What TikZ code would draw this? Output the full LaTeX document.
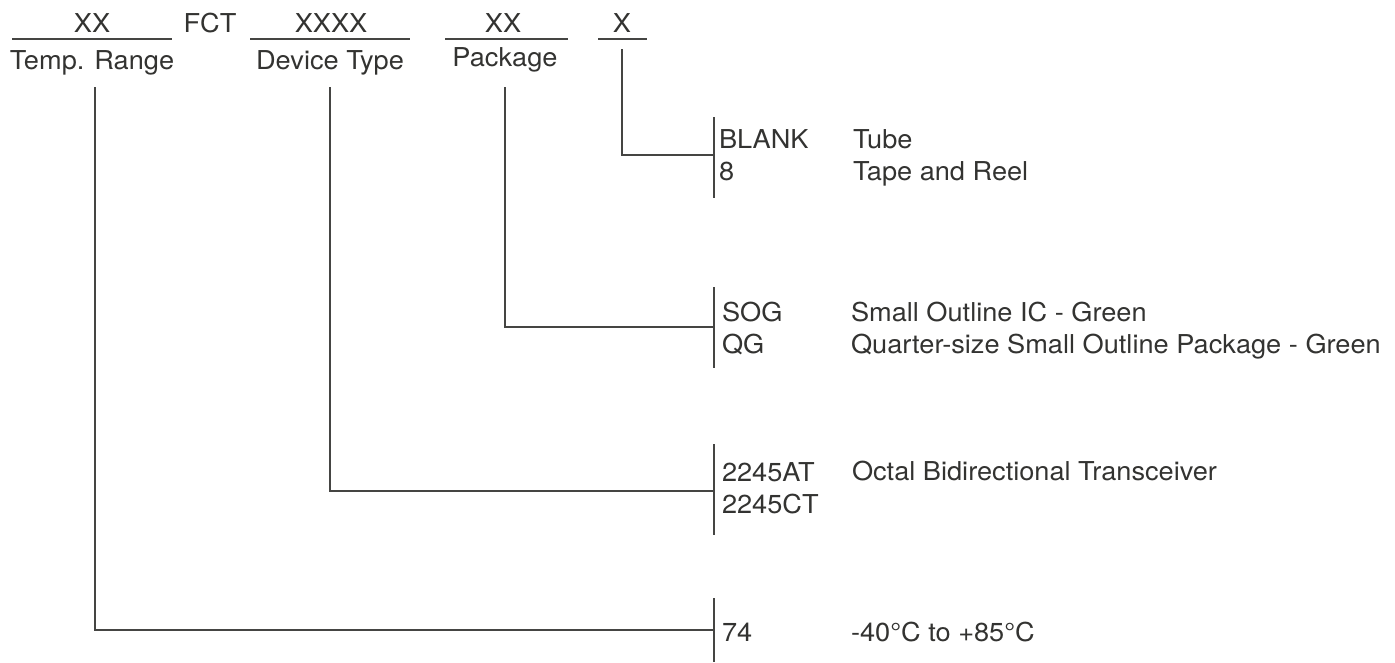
\documentclass[tikz,border=0pt]{standalone}
\usepackage{fontspec}
\setmainfont{TeX Gyre Heros}[FakeStretch=1.045]
\definecolor{txt}{HTML}{333331}
\definecolor{ln}{HTML}{454543}
\begin{document}
\begin{tikzpicture}[x=1pt,y=-1pt,
  every node/.style={inner sep=0pt, outer sep=0pt, text=txt, font=\fontsize{26}{30}\selectfont},
  lbl/.style={anchor=base west},
  hdr/.style={anchor=base},
  conn/.style={draw=ln, line width=1.4pt},
  bar/.style={draw=ln, line width=1.4pt}]
\useasboundingbox (0,0) rectangle (1395,662);

% header codes
\node[hdr] (xx1)  at (92,32)  {XX};
\node[hdr] (fct)  at (210,32) {FCT};
\node[hdr] (xxxx) at (331,32) {XXXX};
\node[hdr] (xx2)  at (503,32) {XX};
\node[hdr] (x1)   at (622,32) {X};

% underlines
\coordinate (u1a) at (12,39);  \coordinate (u1b) at (172,39);
\coordinate (u2a) at (250,39); \coordinate (u2b) at (410,39);
\coordinate (u3a) at (445,39); \coordinate (u3b) at (568,39);
\coordinate (u4a) at (598,39); \coordinate (u4b) at (647,39);
\draw[conn] (u1a) -- (u1b);
\draw[conn] (u2a) -- (u2b);
\draw[conn] (u3a) -- (u3b);
\draw[conn] (u4a) -- (u4b);

% header labels
\node[hdr] (temp) at (92,69)  {Temp. Range};
\node[hdr] (dev)  at (330,69) {Device Type};
\node[hdr] (pkg)  at (505,66) {Package};

% vertical starts
\coordinate (s1) at (95,87);
\coordinate (s2) at (330,87);
\coordinate (s3) at (505,87);
\coordinate (s4) at (622,49);

% bars
\coordinate (b1t) at (714,117); \coordinate (b1) at (714,155); \coordinate (b1b) at (714,198);
\coordinate (b2t) at (714,287); \coordinate (b2) at (714,327); \coordinate (b2b) at (714,368);
\coordinate (b3t) at (714,444); \coordinate (b3) at (714,491); \coordinate (b3b) at (714,535);
\coordinate (b4t) at (714,598); \coordinate (b4) at (714,630); \coordinate (b4b) at (714,662);
\draw[bar] (b1t) -- (b1b);
\draw[bar] (b2t) -- (b2b);
\draw[bar] (b3t) -- (b3b);
\draw[bar] (b4t) -- (b4b);

% connectors
\draw[conn] (s4) |- (b1);
\draw[conn] (s3) |- (b2);
\draw[conn] (s2) |- (b3);
\draw[conn] (s1) |- (b4);

% option codes and descriptions
\node[lbl] (blank) at (719,148) {BLANK};
\node[lbl] (eight) at (719,180) {8};
\node[lbl] (tube)  at (853,148) {Tube};
\node[lbl] (tape)  at (853,180) {Tape and Reel};

\node[lbl] (sog) at (722,321) {SOG};
\node[lbl] (qg)  at (722,353) {QG};
\node[lbl] (soic) at (851,321) {Small Outline IC - Green};
\node[lbl] (qsop) at (851,353) {Quarter-size Small Outline Package - Green};

\node[lbl] (at) at (722,481) {2245AT};
\node[lbl] (ct) at (722,513) {2245CT};
\node[lbl] (octal) at (852,480) {Octal Bidirectional Transceiver};

\node[lbl] (s74) at (722,641) {74};
\node[lbl] (trange) at (851,641) {-40°C to +85°C};
\end{tikzpicture}
\end{document}
